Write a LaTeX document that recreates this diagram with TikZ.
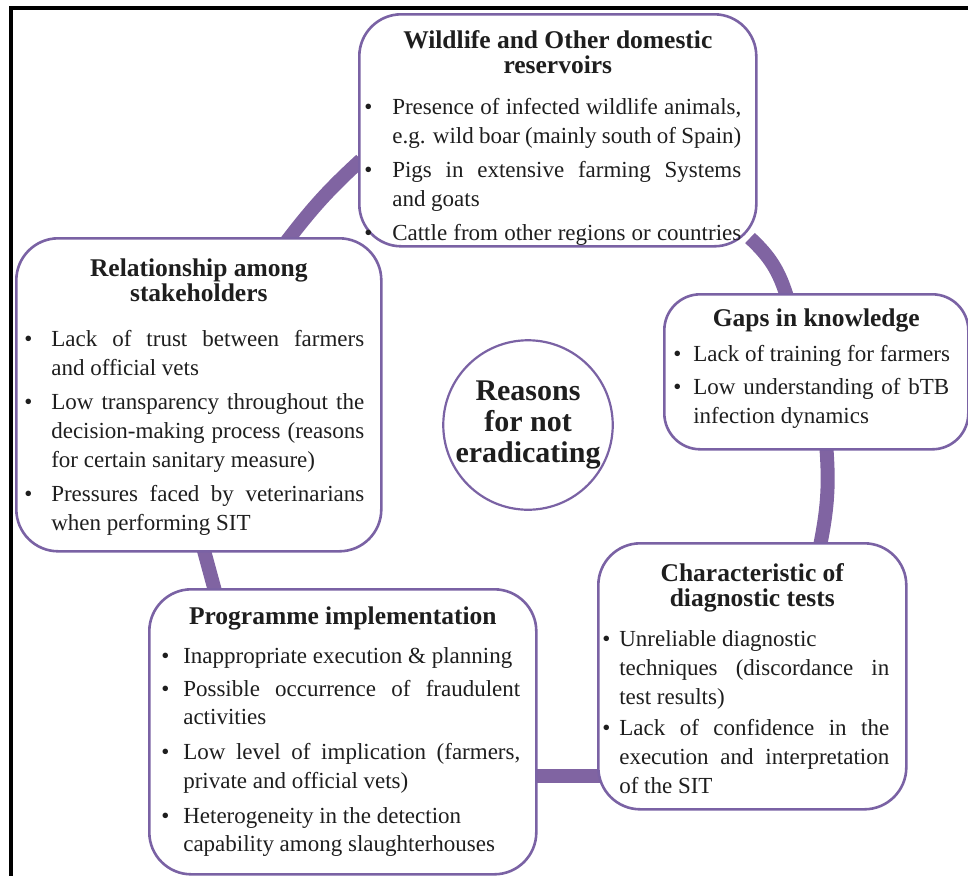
\documentclass[tikz,border=0pt]{standalone}
\usepackage{fontspec}
\setmainfont{Liberation Serif}
\usetikzlibrary{backgrounds,calc}
\definecolor{boxc}{HTML}{7A62A4}
\definecolor{connc}{HTML}{8064A2}
\definecolor{txtc}{HTML}{1E1E1E}
\newlength{\Bw}\newlength{\Bx}\newlength{\Tx}\newlength{\Tr}
\hbadness=10000 \hfuzz=20pt
\newcommand\bodyf{\fontsize{23}{29}\selectfont}
\newcommand\ttlf{\fontsize{25.5}{25}\selectfont\bfseries}
\newcommand\TL[2]{\vskip#1\hbox to\Bw{\hfil\smash{\ttlf #2}\hfil}}
\newcommand\BJ[2]{\vskip#1\hbox to\Bw{\hskip\Bx\smash{\hbox to\dimexpr\Tx-\Bx\relax{\textbullet\hfil}\hbox to\dimexpr\Tr-\Tx\relax{#2}}\hfil}}
\newcommand\BL[2]{\vskip#1\hbox to\Bw{\hskip\Bx\smash{\hbox to\dimexpr\Tx-\Bx\relax{\textbullet\hfil}#2}\hfil}}
\newcommand\CJ[2]{\vskip#1\hbox to\Bw{\hskip\Tx\smash{\hbox to\dimexpr\Tr-\Tx\relax{#2}}\hfil}}
\newcommand\CL[2]{\vskip#1\hbox to\Bw{\hskip\Tx\smash{#2}\hfil}}
\tikzset{
  bx/.style={draw=boxc, line width=2.6pt, fill=white, rounded corners=42pt,
    inner sep=0pt, anchor=north west, text=txtc},
  conn/.style={draw=connc, line width=14pt},
  hub/.style={circle, draw=boxc, line width=2.2pt, fill=white, minimum size=156pt,
    inner sep=0pt, align=center, text=txtc,
    font=\fontsize{30}{31}\selectfont\bfseries},
  frame/.style={draw=black, line width=3.5pt}
}
\begin{document}
\begin{tikzpicture}[x=1pt, y=-1pt]
\useasboundingbox (0,0) rectangle (968,876);
\draw[frame] (9,8) -- (968,8);
\draw[frame] (11,8) -- (11,876);

% top box
\node[bx] (W) at (358,13) {\vbox to 232pt{\offinterlineskip\bodyf
  \Bw=397pt \Bx=5pt \Tx=33pt \Tr=382pt
  \TL{34pt}{Wildlife and Other domestic}
  \TL{25pt}{reservoirs}
  \BJ{41pt}{Presence of infected wildlife animals,}
  \CJ{29pt}{e.g. wild boar (mainly south of Spain)}
  \BJ{34pt}{Pigs in extensive farming Systems}
  \CL{29pt}{and goats}
  \BJ{34pt}{Cattle from other regions or countries}
  \vfil}};

% left box
\node[bx] (R) at (15,237) {\vbox to 313pt{\offinterlineskip\bodyf
  \Bw=365pt \Bx=8pt \Tx=35pt \Tr=348pt
  \TL{38pt}{Relationship among}
  \TL{25pt}{stakeholders}
  \BJ{45pt}{Lack of trust between farmers}
  \CL{29pt}{and official vets}
  \BJ{34pt}{Low transparency throughout the}
  \CJ{29pt}{decision-making process (reasons}
  \CL{29pt}{for certain sanitary measure)}
  \BJ{34pt}{Pressures faced by veterinarians}
  \CL{29pt}{when performing SIT}
  \vfil}};

% gaps box
\node[bx, rounded corners=36pt] (G) at (663,293) {\vbox to 155pt{\offinterlineskip\bodyf
  \Bw=304pt \Bx=9pt \Tx=29pt \Tr=285pt
  \TL{32pt}{Gaps in knowledge}
  \BL{35pt}{Lack of training for farmers}
  \BJ{33pt}{Low understanding of bTB}
  \CL{29pt}{infection dynamics}
  \vfil}};

% characteristic box
\node[bx] (C) at (597,542) {\vbox to 266pt{\offinterlineskip\bodyf
  \Bw=308pt \Bx=4pt \Tx=21pt \Tr=291pt
  \TL{38pt}{Characteristic of}
  \TL{25pt}{diagnostic tests}
  \BL{40pt}{Unreliable diagnostic}
  \CJ{29pt}{techniques (discordance in}
  \CL{29pt}{test results)}
  \BJ{31pt}{Lack of confidence in the}
  \CJ{29pt}{execution and interpretation}
  \CL{29pt}{of the SIT}
  \vfil}};

% programme box
\node[bx] (P) at (148,588) {\vbox to 285pt{\offinterlineskip\bodyf
  \Bw=387pt \Bx=12pt \Tx=34pt \Tr=371pt
  \TL{35pt}{Programme implementation}
  \BL{39pt}{Inappropriate execution \& planning}
  \BJ{33pt}{Possible occurrence of fraudulent}
  \CL{28pt}{activities}
  \BJ{35pt}{Low level of implication (farmers,}
  \CL{29pt}{private and official vets)}
  \BL{35pt}{Heterogeneity in the detection}
  \CL{28pt}{capability among slaughterhouses}
  \vfil}};

% hub
\node[hub] (M) at (528,425) {Reasons\\for not\\eradicating};

\begin{scope}[on background layer]
\draw[conn] ($(R.north west)+(272,4)$) to[bend left=5] ($(W.north west)+(3,147)$);
\draw[conn] ($(W.north west)+(392,225)$) to[bend left=15] ($(G.north west)+(124,4)$);
\draw[conn] ($(G.north west)+(163,150)$) to[bend left=8] ($(C.north west)+(223,4)$);
\draw[conn] ($(C.north west)+(3,234)$) -- ($(P.north west)+(384,188)$);
\draw[conn] ($(P.north west)+(67,3)$) -- ($(R.north west)+(188,310)$);
\end{scope}
\end{tikzpicture}
\end{document}
